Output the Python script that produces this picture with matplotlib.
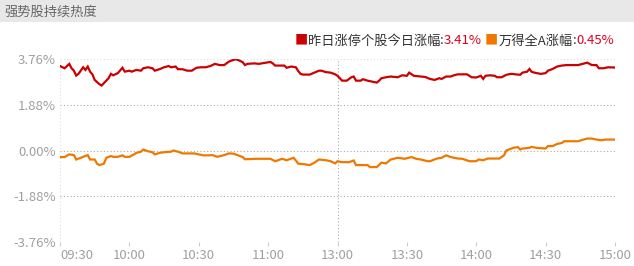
# -*- coding: utf-8 -*-
# I M P O R T ##########################################################################################################
import matplotlib
matplotlib.use("Agg")
import matplotlib.pyplot as plt
from matplotlib.patches import Rectangle


# D E C L A R A T I O N S ##############################################################################################
TITLE = "强势股持续热度"

RED_NAME    = "昨日涨停个股今日涨幅"
ORANGE_NAME = "万得全A涨幅"
RED_LAST    = "3.41%"
ORANGE_LAST = "0.45%"

Y_TICKS  = [3.76, 1.88, 0.00, -1.88, -3.76]
X_TICKS  = ["09:30", "10:00", "10:30", "11:00", "13:00", "13:30", "14:00", "14:30", "15:00"]

red_times = [
  "09:30", "09:32", "09:34", "09:35", "09:36", "09:37", "09:38", "09:40", "09:41", "09:42",
  "09:43", "09:44", "09:45", "09:47", "09:48", "09:49", "09:51", "09:52", "09:53", "09:55",
  "09:57", "09:58", "10:00", "10:01", "10:03", "10:05", "10:06", "10:08", "10:10", "10:11",
  "10:13", "10:15", "10:17", "10:18", "10:20", "10:21", "10:23", "10:25", "10:27", "10:29",
  "10:31", "10:33", "10:35", "10:37", "10:39", "10:41", "10:43", "10:44", "10:46", "10:47",
  "10:49", "10:50", "10:51", "10:54", "10:56", "10:59", "11:01", "11:02", "11:03", "11:06",
  "11:07", "11:08", "11:10", "11:12", "11:13", "11:14", "11:15", "11:18", "11:20", "11:22",
  "11:23", "11:25", "11:27", "11:29", "13:00", "13:02", "13:04", "13:05", "13:06", "13:07",
  "13:08", "13:10", "13:11", "13:13", "13:15", "13:17", "13:18", "13:19", "13:21", "13:23",
  "13:26", "13:28", "13:30", "13:31", "13:33", "13:36", "13:38", "13:40", "13:42", "13:44",
  "13:45", "13:47", "13:49", "13:50", "13:52", "13:54", "13:56", "13:58", "14:00", "14:02",
  "14:03", "14:04", "14:06", "14:08", "14:09", "14:11", "14:13", "14:15", "14:17", "14:19",
  "14:20", "14:22", "14:23", "14:24", "14:26", "14:28", "14:30", "14:31", "14:33", "14:35",
  "14:37", "14:39", "14:41", "14:44", "14:46", "14:48", "14:49", "14:50", "14:52", "14:53",
  "14:55", "14:57", "15:00",
]
red_values = [
  3.47, 3.38, 3.56, 3.38, 3.28, 3.08, 3.15, 3.42, 3.31, 3.45,
  3.24, 3.13, 2.90, 2.73, 2.67, 2.77, 2.97, 3.15, 3.09, 3.18,
  3.40, 3.24, 3.28, 3.24, 3.31, 3.28, 3.38, 3.42, 3.38, 3.28,
  3.34, 3.42, 3.47, 3.42, 3.45, 3.34, 3.34, 3.28, 3.28, 3.40,
  3.42, 3.42, 3.47, 3.56, 3.51, 3.51, 3.65, 3.69, 3.75, 3.72,
  3.63, 3.51, 3.56, 3.58, 3.56, 3.61, 3.64, 3.58, 3.49, 3.49,
  3.49, 3.40, 3.45, 3.42, 3.27, 3.15, 3.12, 3.12, 3.20, 3.28,
  3.28, 3.22, 3.20, 3.13, 3.07, 2.87, 2.87, 2.94, 3.01, 3.04,
  2.87, 2.87, 2.93, 2.87, 2.83, 2.79, 2.87, 2.97, 3.01, 3.04,
  3.01, 3.09, 3.07, 3.20, 3.07, 3.04, 3.02, 2.94, 2.90, 2.97,
  2.94, 3.04, 3.04, 3.08, 3.13, 3.13, 3.13, 3.01, 3.00, 3.07,
  2.94, 3.07, 3.09, 3.07, 3.01, 3.01, 3.11, 3.15, 3.13, 3.11,
  3.20, 3.24, 3.35, 3.23, 3.18, 3.15, 3.18, 3.28, 3.35, 3.45,
  3.49, 3.51, 3.51, 3.51, 3.56, 3.61, 3.56, 3.51, 3.51, 3.38,
  3.38, 3.42, 3.41,
]

orange_times = [
  "09:30", "09:32", "09:34", "09:36", "09:37", "09:39", "09:40", "09:42", "09:43", "09:45",
  "09:46", "09:47", "09:49", "09:50", "09:52", "09:53", "09:55", "09:57", "09:58", "10:00",
  "10:02", "10:03", "10:05", "10:06", "10:08", "10:10", "10:11", "10:13", "10:15", "10:18",
  "10:19", "10:21", "10:23", "10:25", "10:28", "10:30", "10:32", "10:34", "10:36", "10:38",
  "10:41", "10:43", "10:45", "10:47", "10:49", "10:50", "10:55", "11:01", "11:03", "11:04",
  "11:06", "11:08", "11:11", "11:12", "11:13", "11:16", "11:18", "11:20", "11:22", "11:25",
  "11:27", "11:29", "13:00", "13:02", "13:05", "13:07", "13:08", "13:10", "13:13", "13:14",
  "13:17", "13:19", "13:21", "13:23", "13:26", "13:29", "13:32", "13:34", "13:36", "13:39",
  "13:40", "13:43", "13:45", "13:47", "13:49", "13:52", "13:54", "13:57", "14:00", "14:01",
  "14:03", "14:05", "14:10", "14:12", "14:13", "14:15", "14:16", "14:18", "14:19", "14:20",
  "14:23", "14:24", "14:26", "14:30", "14:31", "14:33", "14:35", "14:37", "14:38", "14:44",
  "14:46", "14:48", "14:50", "14:52", "14:54", "14:56", "15:00",
]
orange_values = [
  -0.27, -0.27, -0.16, -0.19, -0.37, -0.30, -0.26, -0.19, -0.37, -0.37,
  -0.54, -0.60, -0.54, -0.30, -0.23, -0.26, -0.26, -0.20, -0.26, -0.26,
  -0.16, -0.10, -0.05,  0.04, -0.03, -0.07, -0.16, -0.10, -0.07, -0.05,
   0.00, -0.05, -0.12, -0.12, -0.12, -0.16, -0.20, -0.20, -0.19, -0.26,
  -0.19, -0.12, -0.13, -0.20, -0.27, -0.36, -0.34, -0.34, -0.44, -0.41,
  -0.34, -0.40, -0.30, -0.41, -0.54, -0.57, -0.60, -0.50, -0.37, -0.40,
  -0.44, -0.53, -0.44, -0.48, -0.48, -0.41, -0.60, -0.60, -0.60, -0.68,
  -0.68, -0.50, -0.53, -0.37, -0.30, -0.34, -0.27, -0.34, -0.37, -0.44,
  -0.44, -0.33, -0.30, -0.20, -0.27, -0.33, -0.34, -0.44, -0.44, -0.37,
  -0.40, -0.33, -0.33, -0.20,  0.00,  0.07,  0.11,  0.14,  0.04,  0.08,
   0.11,  0.15,  0.11,  0.08,  0.18,  0.18,  0.27,  0.31,  0.38,  0.38,
   0.44,  0.49,  0.49,  0.45,  0.42,  0.45,  0.45,
]

COL_RED    = "#cc0000"
COL_ORANGE = "#f07800"
COL_VALUE  = "#e0001b"
COL_TEXT   = "#333333"
COL_AXIS   = "#a0a0a0"

FONTS = ["Noto Sans CJK SC", "DejaVu Sans"]


#---------------------------------------------------------------------------------------------------------------------
# @brief Convert "HH:MM" into a trading minute index (lunch break removed).
#---------------------------------------------------------------------------------------------------------------------
def trade_idx (t):
  h, m = t.split(':')
  mins = int(h)*60 + int(m)
  if (mins <= 11*60+30):
    return mins - (9*60+30)
  return mins - 13*60 + 120


#---------------------------------------------------------------------------------------------------------------------
# @brief Put a row of coloured text pieces, right aligned, ending at x (figure pixels).
#---------------------------------------------------------------------------------------------------------------------
def text_row_right (fig, renderer, x, y, pieces, size):
  for txt, col in reversed(pieces):
    t = fig.text(x/fig.bbox.width, y, txt, color=col, fontsize=size, family=FONTS,
                 ha='right', va='center')
    x -= t.get_window_extent(renderer).width


#---------------------------------------------------------------------------------------------------------------------
# @brief Main function.
#---------------------------------------------------------------------------------------------------------------------
def main():
  plt.rcParams['font.family'] = FONTS

  fig = plt.figure(figsize=(6.34, 2.66), dpi=100)
  W, H = 634.0, 266.0

  # title bar
  fig.patches.append(Rectangle((0, 1-22/H), 1, 22/H, transform=fig.transFigure,
                               facecolor="#e8e8e8", edgecolor="none"))
  fig.text(4/W, 1-12/H, TITLE, color="#666666", fontsize=9.5, ha='left', va='center')

  ax = fig.add_axes([60/W, 1-242/H, 555/W, 183/H])

  rx = [trade_idx(t) for t in red_times]
  ox = [trade_idx(t) for t in orange_times]
  ax.plot(rx, red_values, color=COL_RED, lw=1.6, solid_joinstyle='miter', zorder=3)
  ax.plot(ox, orange_values, color=COL_ORANGE, lw=1.6, solid_joinstyle='miter', zorder=3)

  ax.set_xlim(0, 240)
  ax.set_ylim(Y_TICKS[-1], Y_TICKS[0])

  for s in ax.spines.values():
    s.set_visible(False)

  # grid
  for v in Y_TICKS:
    edge = (v == Y_TICKS[0] or v == Y_TICKS[-1])
    ax.axhline(v, color="#dddddd" if edge else "#aaaaaa", lw=0.8, ls=(0, (1, 2)), zorder=1)
  ax.axvline(0, color="#dddddd", lw=0.8, ls=(0, (1, 2)), zorder=1)
  ax.axvline(240, color="#dddddd", lw=0.8, ls=(0, (1, 2)), zorder=1)
  ax.axvline(trade_idx("13:00"), color="#aaaaaa", lw=0.8, ls=(0, (1, 2)), zorder=1)

  ax.set_yticks(Y_TICKS)
  ax.set_yticklabels(["%.2f%%" % v for v in Y_TICKS])
  ax.tick_params(axis='y', length=0, pad=3, labelsize=9.5, labelcolor=COL_AXIS)

  ax.set_xticks([trade_idx(t) for t in X_TICKS])
  ax.set_xticklabels(X_TICKS)
  ax.tick_params(axis='x', length=3, width=0.8, color="#cccccc", pad=2, labelsize=9.5, labelcolor=COL_AXIS)
  xl = ax.get_xticklabels()
  xl[0].set_ha('left')

  # legend row
  fig.canvas.draw()
  renderer = fig.canvas.get_renderer()
  text_row_right(fig, renderer, 614, 1-41/H, [
    ("■", COL_RED), (RED_NAME, COL_TEXT), (":", COL_TEXT), (RED_LAST, COL_VALUE), (" ", COL_TEXT),
    ("■", COL_ORANGE), (ORANGE_NAME, COL_TEXT), (":", COL_TEXT), (ORANGE_LAST, COL_VALUE),
  ], 9.5)

  fig.savefig("out.png", dpi=100)


#---------------------------------------------------------------------------------------------------------------------
if __name__ == "__main__":
  main()
